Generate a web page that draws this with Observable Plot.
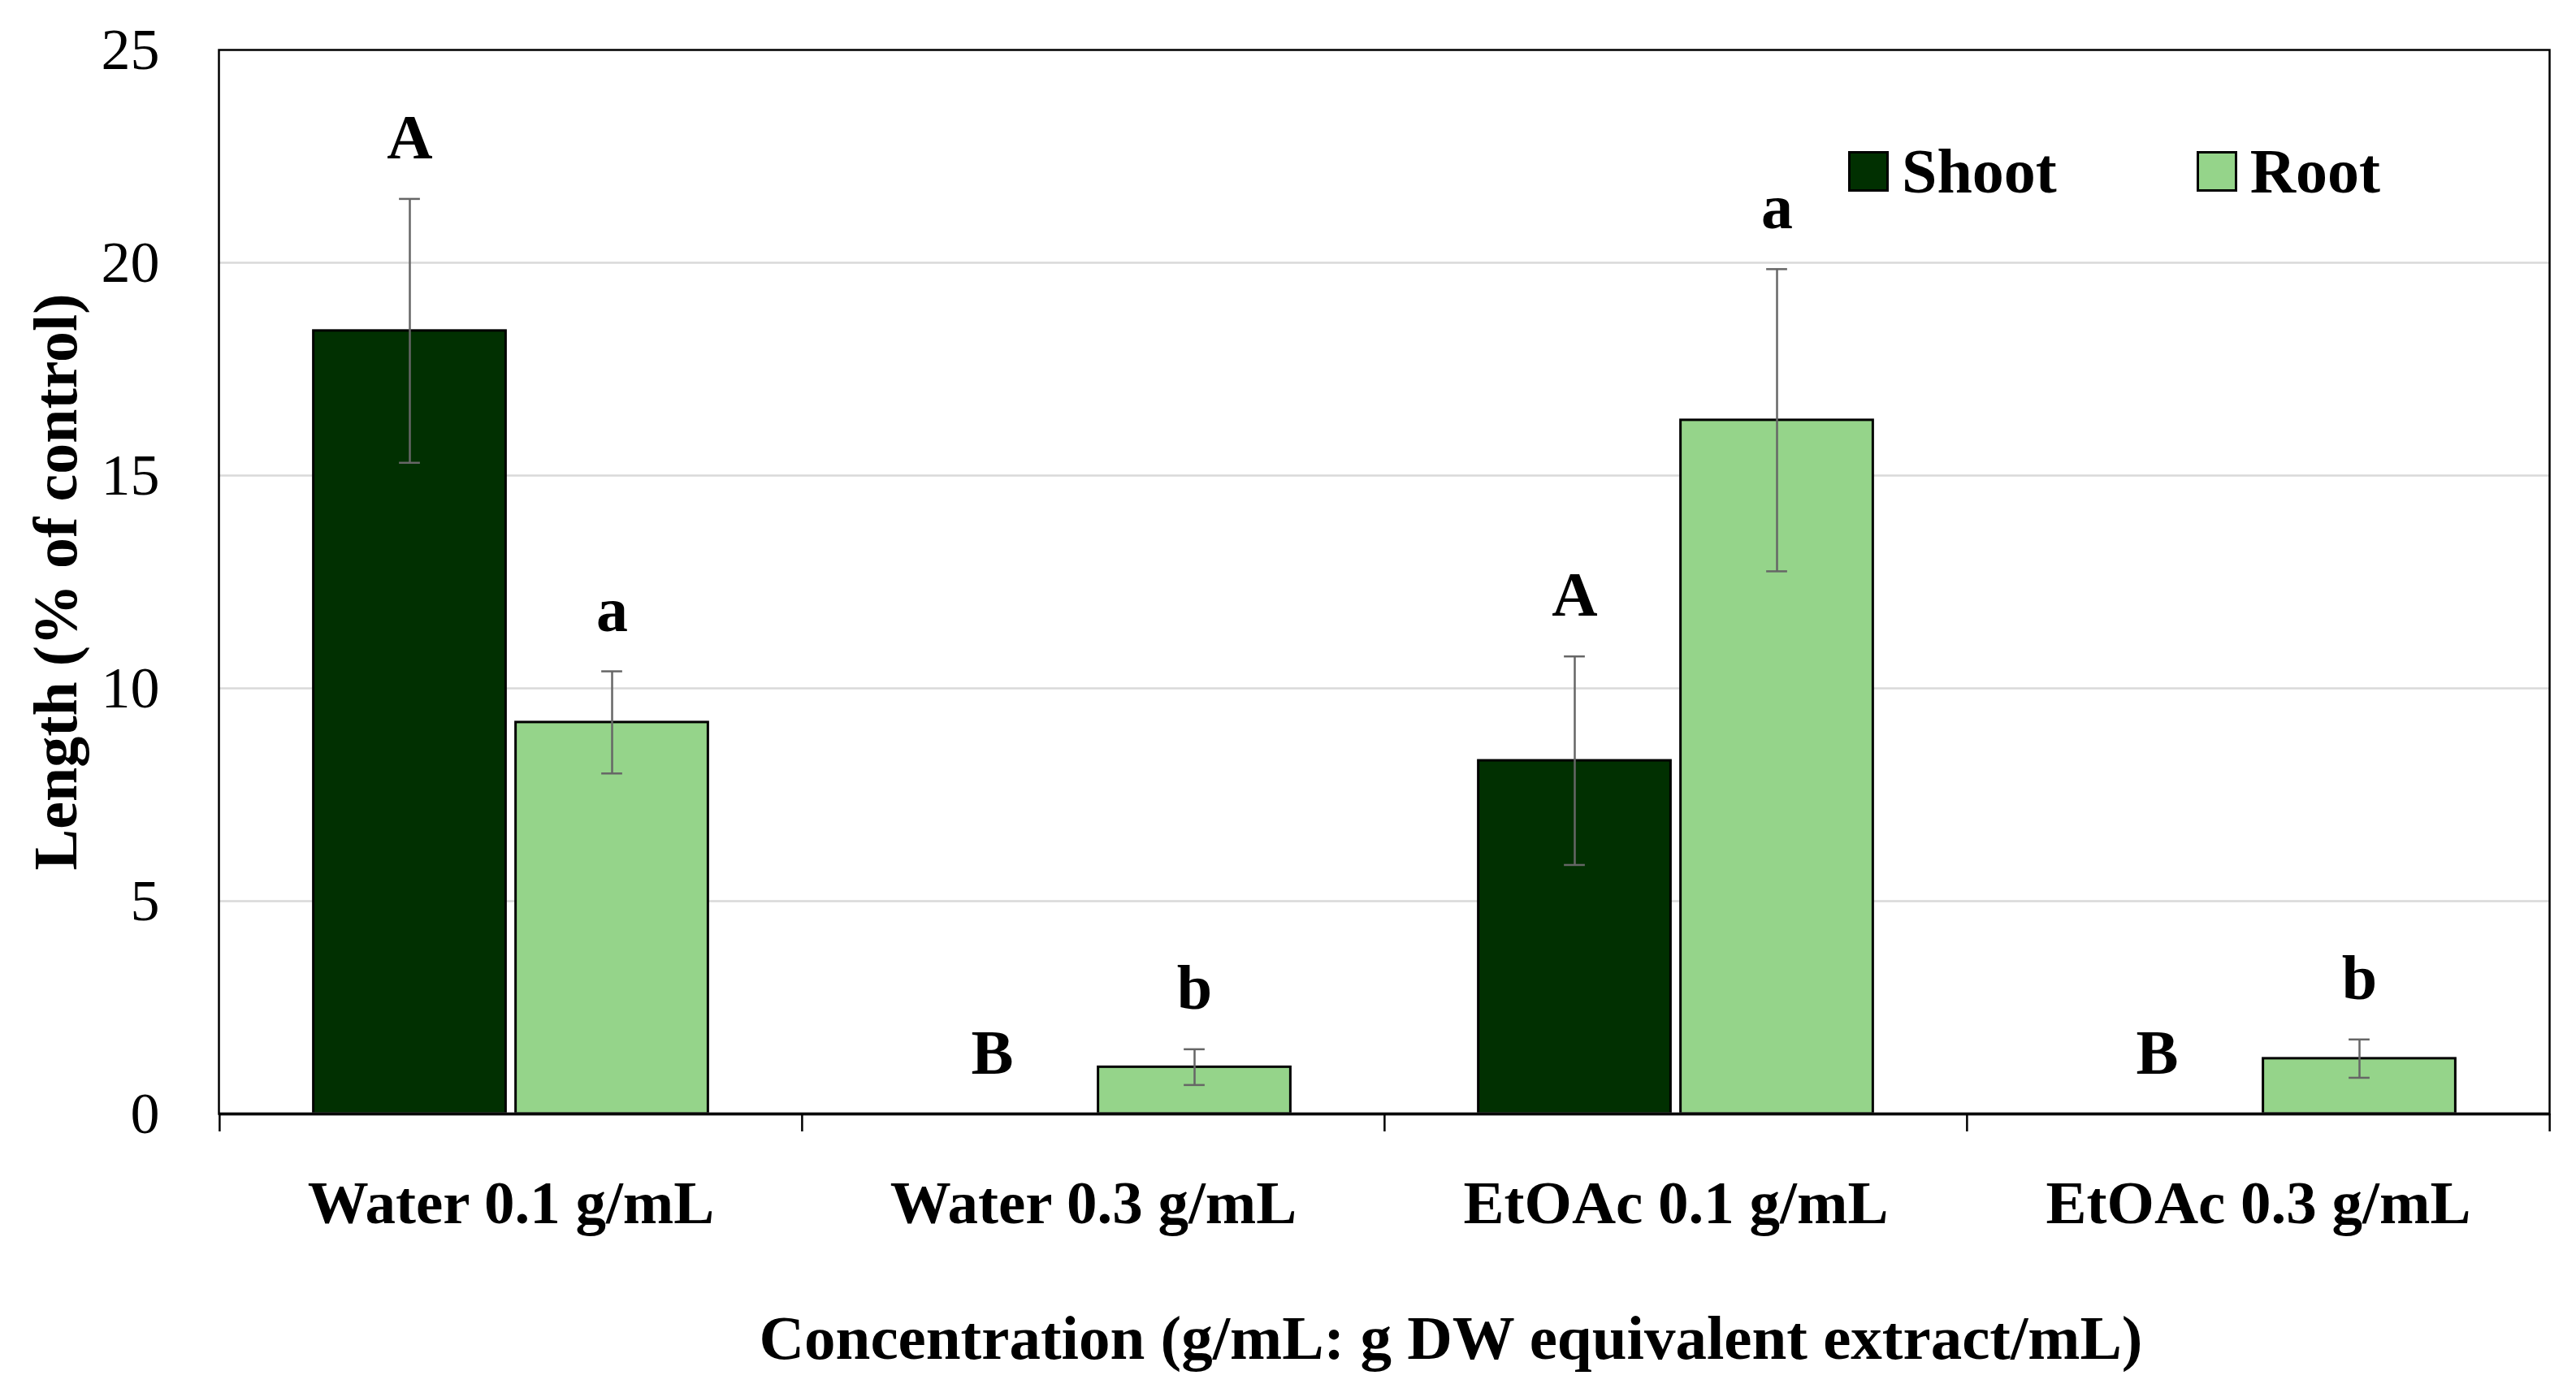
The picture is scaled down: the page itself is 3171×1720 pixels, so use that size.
<!DOCTYPE html>
<html><head><meta charset="utf-8">
<script src="https://cdn.jsdelivr.net/npm/d3@7"></script>
<script src="https://cdn.jsdelivr.net/npm/@observablehq/plot@0.6"></script>
<style>
html,body{margin:0;padding:0;background:#fff;}
#wrap{position:relative;width:3171px;height:1720px;}
.legend{position:absolute;left:2275px;top:172px;display:flex;align-items:center;font-family:"Liberation Serif",serif;font-weight:bold;font-size:78px;line-height:1;color:#000;}
.item{display:flex;align-items:center;}
.sw{width:44px;height:44px;border:3px solid #000;margin-right:16px;}
</style></head><body><div id="wrap"></div>
<script>
const categories = ["Water 0.1 g/mL", "Water 0.3 g/mL", "EtOAc 0.1 g/mL", "EtOAc 0.3 g/mL"];
const series = ["Shoot", "Root"];
const seriesColors = ["#013001", "#95d48a"];
const shootMean = [18.4, 0, 8.3, 0];
const shootErr = [3.1, 0, 2.45, 0];
const shootLetters = ["A", "B", "A", "B"];
const rootMean = [9.2, 1.1, 16.3, 1.3];
const rootErr = [1.2, 0.42, 3.55, 0.45];
const rootLetters = ["a", "b", "a", "b"];
const yTicks = [0, 5, 10, 15, 20, 25];
const gridTicks = [5, 10, 15, 20];
const yLabel = "Length (% of control)";
const xLabel = "Concentration (g/mL: g DW equivalent extract/mL)";

const shootRows = categories.map((c, i) => ({cat: c, mean: shootMean[i], err: shootErr[i], letter: shootLetters[i]}));
const rootRows = categories.map((c, i) => ({cat: c, mean: rootMean[i], err: rootErr[i], letter: rootLetters[i]}));

const W = 3171, H = 1720, mL = 269, mR = 33, mT = 61, mB = 349;
const fw = (W - mL - mR) / categories.length;
const barW = 237, gap = 12, outer = (fw - 2 * barW - gap) / 2;
const capW = 26;
const off = gap / 2 + barW / 2;
const sC = outer + barW / 2, rC = outer + barW + gap + barW / 2;

function seriesMarks(rows, color, insL, insR, center, dx) {
  const withErr = rows.filter(d => d.err > 0);
  return [
    Plot.barY(rows.filter(d => d.mean > 0), {x: "cat", y: "mean", fill: color, stroke: "#000", strokeWidth: 3, insetLeft: insL, insetRight: insR}),
    Plot.ruleX(withErr, {x: "cat", y1: d => d.mean - d.err, y2: d => d.mean + d.err, dx, stroke: "#666", strokeWidth: 2.5}),
    Plot.tickY(withErr, {x: "cat", y: d => d.mean + d.err, insetLeft: center - capW / 2, insetRight: fw - center - capW / 2, stroke: "#666", strokeWidth: 2.5}),
    Plot.tickY(withErr, {x: "cat", y: d => d.mean - d.err, insetLeft: center - capW / 2, insetRight: fw - center - capW / 2, stroke: "#666", strokeWidth: 2.5}),
    Plot.text(rows, {x: "cat", y: d => d.mean + d.err, text: "letter", dx, dy: -50, lineAnchor: "bottom", fontSize: 78, fontWeight: "bold", fill: "#000"})
  ];
}

const chart = Plot.plot({
  width: W, height: H,
  marginLeft: mL, marginRight: mR, marginTop: mT, marginBottom: mB,
  style: {fontFamily: "'Liberation Serif', serif", background: "#fff", color: "#000"},
  x: {domain: categories, padding: 0},
  y: {domain: [0, 25]},
  marks: [
    Plot.gridY(gridTicks, {stroke: "#d9d9d9", strokeOpacity: 1, strokeWidth: 2.5}),
    ...seriesMarks(shootRows, seriesColors[0], outer, fw - outer - barW, sC, -off),
    ...seriesMarks(rootRows, seriesColors[1], outer + barW + gap, outer, rC, off),
    Plot.ruleY([0], {stroke: "#404040", strokeWidth: 4}),
    Plot.frame({stroke: "#000", strokeWidth: 2.5}),
    Plot.axisY({ticks: yTicks, tickSize: 0, tickPadding: 73, fontSize: 72, label: null}),
    Plot.axisY({ticks: [], tickSize: 0, label: yLabel, labelAnchor: "center", labelArrow: "none", labelOffset: 229, fontSize: 76, fontWeight: "bold"}),
    Plot.axisX({tickSize: 0, tickPadding: 81, fontSize: 75, fontWeight: "bold", label: null}),
    Plot.axisX({tickSize: 22, tickFormat: null, dx: -fw / 2, label: null, stroke: "#000", strokeWidth: 2.5}),
    Plot.axisX({ticks: [categories[categories.length - 1]], tickSize: 22, tickFormat: null, dx: fw / 2, label: null, stroke: "#000", strokeWidth: 2.5}),
    Plot.text([xLabel], {frameAnchor: "bottom", dy: 301, dx: 82, lineAnchor: "bottom", fontSize: 77, fontWeight: "bold", fill: "#000"})
  ]
});
const wrap = document.getElementById("wrap");
wrap.appendChild(chart);

const legend = document.createElement("div");
legend.className = "legend";
series.forEach((s, i) => {
  const item = document.createElement("div");
  item.className = "item";
  item.style.marginRight = i === 0 ? "172px" : "0";
  const sw = document.createElement("div");
  sw.className = "sw";
  sw.style.background = seriesColors[i];
  const t = document.createElement("span");
  t.textContent = s;
  item.appendChild(sw); item.appendChild(t);
  legend.appendChild(item);
});
wrap.appendChild(legend);
</script></body></html>
